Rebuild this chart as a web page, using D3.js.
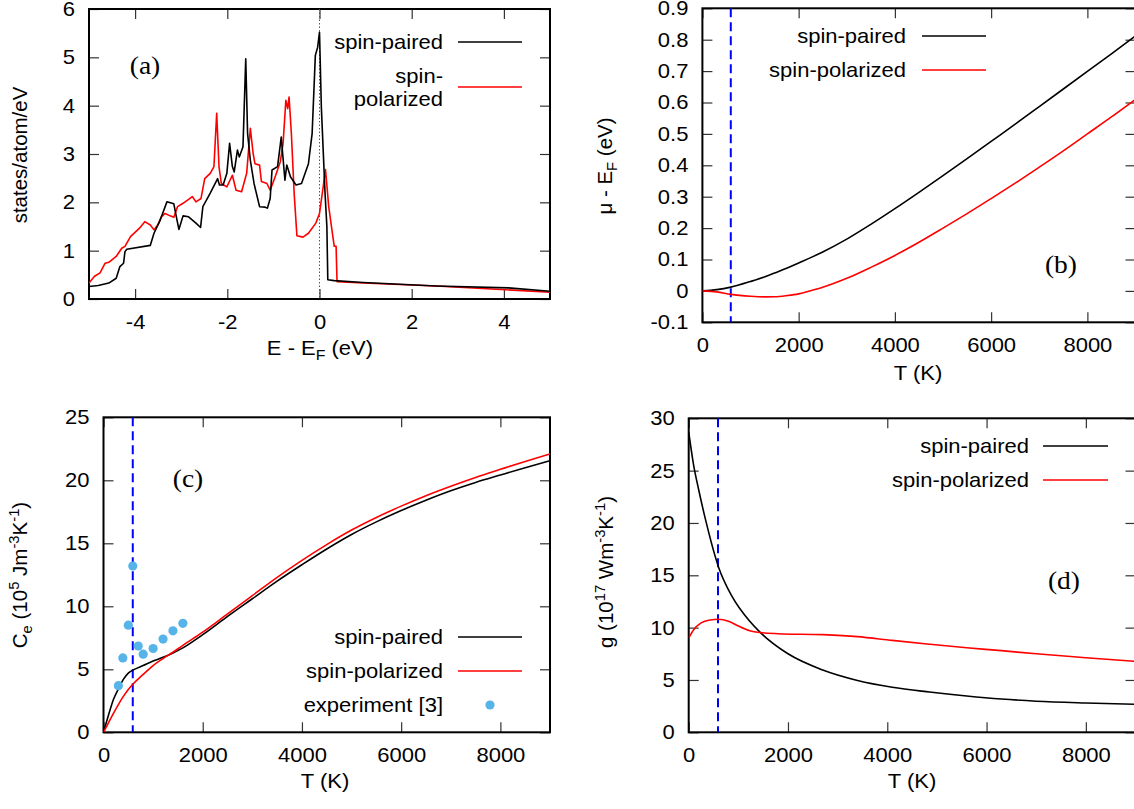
<!DOCTYPE html>
<html>
<head>
<meta charset="utf-8">
<script src="https://cdn.jsdelivr.net/npm/d3@7"></script>
<style>
  body { margin: 0; background: #fff; }
  svg { display: block; }
  text { font-family: "Liberation Sans", Arial, sans-serif; }
</style>
</head>
<body>
<svg id="fig" width="1134" height="809"></svg>
<script>

// (a) density of states
const E_paired = [-5.00,-4.80,-4.57,-4.41,-4.33,-4.25,-4.22,-4.18,-3.67,-3.59,-3.47,-3.31,-3.16,-3.12,-3.05,-2.96,-2.84,-2.68,-2.58,-2.53,-2.37,-2.21,-2.17,-2.09,-2.01,-1.95,-1.89,-1.85,-1.78,-1.74,-1.66,-1.60,-1.56,-1.50,-1.42,-1.30,-1.18,-1.13,-1.07,-1.03,-0.91,-0.83,-0.75,-0.71,-0.63,-0.51,-0.39,-0.24,-0.16,-0.09,-0.04,0.00,0.04,0.12,0.16,0.18,0.32,0.95,2.53,4.10,5.00];
const dos_paired = [0.26,0.28,0.33,0.43,0.67,0.74,0.98,1.03,1.11,1.36,1.60,2.01,1.97,1.77,1.44,1.72,1.70,1.57,1.48,1.91,2.19,2.49,2.36,2.36,2.60,3.22,2.74,2.63,3.08,2.94,3.15,4.97,3.42,2.87,2.39,1.91,1.90,1.88,2.08,2.67,2.74,3.35,2.46,2.77,2.53,2.36,2.39,2.80,3.42,5.04,5.21,5.52,3.97,2.19,1.50,0.40,0.38,0.34,0.27,0.23,0.16];

const E_polar = [-5.00,-4.88,-4.76,-4.65,-4.57,-4.41,-4.29,-4.22,-4.10,-3.91,-3.79,-3.67,-3.59,-3.51,-3.43,-3.35,-3.24,-3.16,-3.08,-2.96,-2.84,-2.76,-2.68,-2.57,-2.49,-2.37,-2.29,-2.23,-2.18,-2.13,-2.01,-1.89,-1.81,-1.69,-1.58,-1.50,-1.44,-1.40,-1.30,-1.26,-1.14,-1.07,-0.95,-0.85,-0.79,-0.73,-0.69,-0.66,-0.61,-0.55,-0.49,-0.36,-0.24,-0.08,0.00,0.08,0.13,0.20,0.28,0.32,0.36,0.38,0.95,2.53,5.00];
const dos_polar = [0.33,0.47,0.54,0.74,0.76,0.88,1.05,1.09,1.29,1.46,1.60,1.53,1.43,1.53,1.70,1.77,1.72,1.69,1.91,1.98,2.06,2.12,2.01,2.08,2.49,2.60,2.74,3.84,2.74,2.39,2.32,2.56,2.25,2.22,2.60,3.53,3.01,2.80,2.77,2.43,2.39,2.25,2.56,2.84,3.22,4.11,3.94,4.18,3.42,2.19,1.31,1.28,1.36,1.57,1.77,2.32,2.68,1.91,1.36,1.09,1.09,0.36,0.33,0.27,0.14];

// (b) chemical potential
const T_mu = [0,300,590,1000,1300,1500,1750,2000,2250,2500,3000,3500,4000,4500,5000,5500,6000,6500,7000,7500,8000,8500,9000];
const mu_paired = [0,0.004,0.012,0.030,0.045,0.057,0.072,0.089,0.106,0.124,0.165,0.212,0.262,0.314,0.367,0.421,0.476,0.531,0.587,0.643,0.699,0.755,0.812];
const mu_polar = [0,-0.003,-0.011,-0.017,-0.019,-0.0185,-0.015,-0.0095,0.0005,0.0115,0.040,0.075,0.113,0.155,0.200,0.246,0.294,0.343,0.394,0.446,0.500,0.554,0.610];

// (c) electron heat capacity
const T_ce = [0,100,200,300,400,500,600,800,1000,1200,1400,1600,2000,2500,3000,3500,4000,4500,5000,5500,6000,6500,7000,7500,8000,8500,9000];
const ce_paired = [0,1.35,2.6,3.45,4.2,4.7,4.95,5.3,5.65,5.95,6.3,6.7,7.75,9.2,10.6,12.0,13.3,14.55,15.7,16.7,17.6,18.42,19.17,19.83,20.42,21.0,21.55];
const ce_polar = [0,0.75,1.5,2.2,2.85,3.4,3.85,4.6,5.3,5.85,6.35,6.9,7.95,9.4,10.85,12.3,13.65,14.9,16.05,17.05,17.95,18.78,19.53,20.23,20.87,21.5,22.1];
const T_exp = [300,390,500,590,700,800,1000,1200,1400,1600];
const ce_exp = [3.7,5.9,8.5,13.2,6.85,6.2,6.65,7.4,8.05,8.65];

// (d) electron-phonon coupling
const T_g_paired = [0,100,200,350,600,870,1230,1450,2000,2700,3400,4100,4850,5600,6300,7000,8000,9000];
const g_paired = [28.7,25.5,23.2,20.1,15.8,13.0,10.6,9.5,7.5,5.95,4.95,4.3,3.85,3.47,3.18,2.97,2.8,2.68];
const T_g_polar = [0,100,250,430,600,800,1000,1230,1450,1800,2700,3400,4100,4850,5600,6300,7000,8000,9000];
const g_polar = [9.0,9.8,10.45,10.73,10.8,10.62,10.15,9.7,9.52,9.42,9.33,9.14,8.78,8.42,8.08,7.8,7.5,7.13,6.77];

const T_curie = 590;
const tTicks = [0,2000,4000,6000,8000];

const svg = d3.select("#fig");
const FS = 20;      // tick / legend font size
const FS_T = 20.5;  // axis title font size
const SX = 1.1;     // horizontal stretch of the original figure text

function translate(x, y) { return "translate(" + x + "," + y + ")"; }

// widen horizontal text a bit, keeping its anchor point
function stretch(sel) {
    sel.each(function() {
        let t = d3.select(this);
        let x = +t.attr("x") || 0, y = +t.attr("y") || 0;
        t.attr("transform", translate(x, y) + " scale(" + SX + ",1) " + translate(-x, -y));
    });
}

// text with sub/superscripts, parts = [[str, kind]]
function richText(sel, parts, fs) {
    let shift = 0;
    parts.forEach(p => {
        let target = p[1] === "sup" ? -8 : p[1] === "sub" ? 5 : 0;
        let t = sel.append("tspan").text(p[0]).attr("dy", target - shift);
        if (p[1] !== "n") t.attr("font-size", fs * 0.72);
        shift = target;
    });
    return sel;
}

let clipId = 0;
function makePanel(box, xDom, yDom, xt, yt, fmt) {
    let x = d3.scaleLinear().domain(xDom).range([box.left, box.right]);
    let y = d3.scaleLinear().domain(yDom).range([box.bottom, box.top]);
    let g = svg.append("g");

    let axes = [
        [d3.axisBottom(x).tickValues(xt).tickFormat(fmt).tickPadding(16), translate(0, box.bottom)],
        [d3.axisTop(x).tickValues(xt).tickFormat(""), translate(0, box.top)],
        [d3.axisLeft(y).tickValues(yt).tickFormat(fmt).tickPadding(14), translate(box.left, 0)],
        [d3.axisRight(y).tickValues(yt).tickFormat(""), translate(box.right, 0)]
    ];
    axes.forEach(a => {
        let ag = g.append("g").attr("transform", a[1]).call(a[0].tickSize(-10));
        ag.select(".domain").remove();
        ag.attr("font-size", FS).attr("font-family", "Liberation Sans, Arial, sans-serif");
        ag.selectAll("line").attr("stroke", "#333").attr("stroke-width", 1.2);
        ag.selectAll("text").attr("fill", "#000").call(stretch);
    });

    g.append("rect")
     .attr("x", box.left).attr("y", box.top)
     .attr("width", box.right - box.left).attr("height", box.bottom - box.top)
     .attr("fill", "none").attr("stroke", "#000").attr("stroke-width", 2);

    let id = "clip" + (clipId++);
    svg.append("clipPath").attr("id", id).append("rect")
       .attr("x", box.left).attr("y", box.top)
       .attr("width", box.right - box.left).attr("height", box.bottom - box.top);
    let plot = g.append("g").attr("clip-path", "url(#" + id + ")");
    return { g: g, plot: plot, x: x, y: y, box: box };
}

function drawLine(p, xs, ys, color, curve) {
    let pts = xs.map((v, i) => [v, ys[i]]);
    p.plot.append("path")
     .datum(pts)
     .attr("fill", "none")
     .attr("stroke", color)
     .attr("stroke-width", 1.6)
     .attr("stroke-linejoin", "round")
     .attr("d", d3.line().x(d => p.x(d[0])).y(d => p.y(d[1])).curve(curve || d3.curveLinear));
}

function drawCurie(p) {
    p.plot.append("line")
     .attr("x1", p.x(T_curie)).attr("x2", p.x(T_curie))
     .attr("y1", p.box.top).attr("y2", p.box.bottom)
     .attr("stroke", "#0000ff").attr("stroke-width", 2)
     .attr("stroke-dasharray", "9,5");
}

function label(p, tx, yy, s) {
    p.g.append("text").attr("x", tx).attr("y", yy).attr("dy", "0.35em")
       .attr("text-anchor", "end").attr("font-size", FS).text(s).call(stretch);
}

function legendEntry(p, tx, lx1, lx2, yy, s, color) {
    label(p, tx, yy, s);
    p.g.append("line").attr("x1", lx1).attr("x2", lx2).attr("y1", yy).attr("y2", yy)
       .attr("stroke", color).attr("stroke-width", 1.6);
}

function panelLabel(p, cx, cy, s) {
    p.g.append("text").attr("x", cx).attr("y", cy).attr("dy", "0.35em")
       .attr("text-anchor", "middle")
       .style("font-family", "'Liberation Serif', 'Times New Roman', serif")
       .attr("font-size", 25).text(s).call(stretch);
}

function xTitle(p, cx, cy, parts) {
    richText(p.g.append("text").attr("x", cx).attr("y", cy).attr("dy", "0.35em")
       .attr("text-anchor", "middle").attr("font-size", FS), parts, FS).call(stretch);
}

function yTitle(p, cx, cy, parts) {
    richText(p.g.append("text").attr("transform", translate(cx, cy) + " rotate(-90)")
       .attr("dy", "0.35em").attr("text-anchor", "middle").attr("font-size", FS_T), parts, FS_T);
}

const fmtPlain = d => String(Math.round(d * 10) / 10);

// (a)
let pa = makePanel({left: 89, right: 550, top: 9, bottom: 299}, [-5, 5], [0, 6],
                   [-4, -2, 0, 2, 4], [0, 1, 2, 3, 4, 5, 6], fmtPlain);
pa.plot.append("line")
  .attr("x1", pa.x(0)).attr("x2", pa.x(0)).attr("y1", pa.box.top).attr("y2", pa.box.bottom)
  .attr("stroke", "#555").attr("stroke-width", 1).attr("stroke-dasharray", "1.5,2");
drawLine(pa, E_polar, dos_polar, "#ff0000");
drawLine(pa, E_paired, dos_paired, "#000");
legendEntry(pa, 443, 458, 522, 42, "spin-paired", "#000");
label(pa, 443, 76, "spin-");
label(pa, 443, 99, "polarized");
pa.g.append("line").attr("x1", 458).attr("x2", 522).attr("y1", 87).attr("y2", 87)
    .attr("stroke", "#ff0000").attr("stroke-width", 1.6);
panelLabel(pa, 145, 65, "(a)");
xTitle(pa, 320, 355, [["E - E", "n"], ["F", "sub"], [" (eV)", "n"]]);
yTitle(pa, 27, 155, [["states/atom/eV", "n"]]);

// (b)
let pb = makePanel({left: 702.4, right: 1135.5, top: 8.3, bottom: 322.3}, [0, 9000], [-0.1, 0.9],
                   tTicks, d3.range(-1, 10).map(v => v / 10), fmtPlain);
drawCurie(pb);
drawLine(pb, T_mu, mu_paired, "#000", d3.curveMonotoneX);
drawLine(pb, T_mu, mu_polar, "#ff0000", d3.curveMonotoneX);
legendEntry(pb, 906, 922, 986, 36, "spin-paired", "#000");
legendEntry(pb, 906, 922, 986, 70, "spin-polarized", "#ff0000");
panelLabel(pb, 1061, 264, "(b)");
xTitle(pb, 918, 380, [["T (K)", "n"]]);
yTitle(pb, 612, 166, [["\u03bc - E", "n"], ["F", "sub"], [" (eV)", "n"]]);

// (c)
let pc = makePanel({left: 103.5, right: 550, top: 417.3, bottom: 732.3}, [0, 9000], [0, 25],
                   tTicks, [0, 5, 10, 15, 20, 25], fmtPlain);
drawCurie(pc);
drawLine(pc, T_ce, ce_paired, "#000", d3.curveMonotoneX);
drawLine(pc, T_ce, ce_polar, "#ff0000", d3.curveMonotoneX);
pc.plot.selectAll("circle.exp")
  .data(T_exp.map((t, i) => [t, ce_exp[i]]))
  .enter().append("circle").attr("class", "exp")
  .attr("cx", d => pc.x(d[0])).attr("cy", d => pc.y(d[1]))
  .attr("r", 4.6).attr("fill", "#56b4e9");
legendEntry(pc, 443, 458, 522, 637, "spin-paired", "#000");
legendEntry(pc, 443, 458, 522, 671, "spin-polarized", "#ff0000");
label(pc, 443, 705, "experiment [3]");
pc.g.append("circle").attr("cx", 490).attr("cy", 705).attr("r", 4.6).attr("fill", "#56b4e9");
panelLabel(pc, 188, 478, "(c)");
xTitle(pc, 325, 788, [["T (K)", "n"]]);
yTitle(pc, 27, 575, [["C", "n"], ["e", "sub"], [" (10", "n"], ["5", "sup"], [" Jm", "n"], ["-3", "sup"], ["K", "n"], ["-1", "sup"], [")", "n"]]);

// (d)
let pd = makePanel({left: 688.7, right: 1135.5, top: 418.3, bottom: 732.3}, [0, 9000], [0, 30],
                   tTicks, [0, 5, 10, 15, 20, 25, 30], fmtPlain);
drawCurie(pd);
drawLine(pd, T_g_paired, g_paired, "#000", d3.curveMonotoneX);
drawLine(pd, T_g_polar, g_polar, "#ff0000", d3.curveMonotoneX);
legendEntry(pd, 1029, 1043, 1108, 446, "spin-paired", "#000");
legendEntry(pd, 1029, 1043, 1108, 480, "spin-polarized", "#ff0000");
panelLabel(pd, 1064, 580, "(d)");
xTitle(pd, 912, 788, [["T (K)", "n"]]);
yTitle(pd, 613, 572, [["g (10", "n"], ["17", "sup"], [" Wm", "n"], ["-3", "sup"], ["K", "n"], ["-1", "sup"], [")", "n"]]);

</script>
</body>
</html>
